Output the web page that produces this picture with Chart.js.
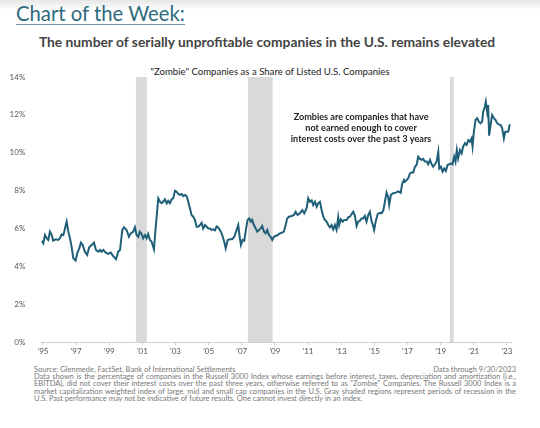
<!DOCTYPE html>
<html>
<head>
<meta charset="utf-8">
<script src="https://cdn.jsdelivr.net/npm/chart.js@4"></script>
<style>
  body { margin: 0; width: 540px; height: 428px; background: #fff; font-family: Lato, "Open Sans", sans-serif; position: relative; overflow: hidden; }
  .shade { position: absolute; left: 0; top: 0; width: 540px; height: 10px; background: linear-gradient(#e6e6e6, #fff); }
  .big { position: absolute; left: 16px; top: 2px; font-size: 20.3px; color: #2e6b7d; border-bottom: 1.5px solid #6f98a5; line-height: 22px; padding-bottom: 0px; }
  .head { position: absolute; left: 0; width: 540px; text-align: center; white-space: nowrap; }
  .foot { position: absolute; left: 34px; width: 482px; font-size: 7.5px; line-height: 7.3px; color: #777; text-align: justify; }
  #wrap { position: absolute; left: 0; top: 60px; width: 540px; height: 305px; }
</style>
</head>
<body>
<div class="shade"></div>
<div class="big">Chart of the Week:</div>
<div class="head" style="top:33px;font-size:13.8px;font-weight:bold;color:#444;margin-left:-3px;">The number of serially unprofitable companies in the U.S. remains elevated</div>
<div class="head" style="top:66px;font-size:9.6px;color:#222;">"Zombie" Companies as a Share of Listed U.S. Companies</div>
<div id="wrap"><canvas id="grafico" width="540" height="305"></canvas></div>
<div class="foot" style="top:365.5px;">Source: Glenmede, FactSet, Bank of International Settlements<span style="float:right">Data through 9/30/2023</span></div>
<div class="foot" style="top:373px;">Data shown is the percentage of companies in the Russell 3000 Index whose earnings before interest, taxes, depreciation and amortization (i.e., EBITDA), did not cover their interest costs over the past three years, otherwise referred to as "Zombie" Companies. The Russell 3000 Index is a market capitalization weighted index of large, mid and small cap companies in the U.S. Gray shaded regions represent periods of recession in the U.S. Past performance may not be indicative of future results. One cannot invest directly in an index.</div>
<script>
// Dados (ano decimal, % de empresas "zumbi")
const anos = [
  1994.92,1995.02,1995.12,1995.22,1995.32,1995.42,1995.53,1995.62,1995.78,1995.92,
  1996.03,1996.13,1996.23,1996.33,1996.43,1996.53,1996.63,1996.73,1996.83,1996.97,
  1997.07,1997.19,1997.29,1997.40,1997.53,1997.67,1997.79,1997.94,1998.08,1998.20,
  1998.34,1998.44,1998.54,1998.64,1998.80,1998.94,1999.09,1999.24,1999.41,1999.54,
  1999.65,1999.79,1999.89,2000.05,2000.19,2000.31,2000.45,2000.55,2000.65,2000.75,
  2000.85,2000.96,2001.05,2001.16,2001.26,2001.35,2001.46,2001.56,2001.70,2001.80,
  2001.88,2001.96,2002.06,2002.16,2002.26,2002.36,2002.47,2002.56,2002.66,2002.77,
  2002.86,2002.97,2003.07,2003.17,2003.27,2003.37,2003.47,2003.57,2003.67,2003.77,
  2003.87,2003.97,2004.07,2004.17,2004.28,2004.37,2004.48,2004.58,2004.67,2004.78,
  2004.88,2004.98,2005.08,2005.18,2005.28,2005.38,2005.48,2005.58,2005.74,2005.82,
  2005.94,2006.03,2006.15,2006.29,2006.42,2006.55,2006.69,2006.79,2006.87,2006.95,
  2007.05,2007.15,2007.25,2007.35,2007.45,2007.55,2007.63,2007.73,2007.84,2007.93,
  2008.04,2008.14,2008.23,2008.34,2008.44,2008.54,2008.64,2008.74,2008.84,2008.94,
  2009.04,2009.16,2009.30,2009.41,2009.54,2009.65,2009.74,2009.85,2010.01,2010.15,
  2010.25,2010.37,2010.51,2010.65,2010.77,2010.91,2011.01,2011.11,2011.22,2011.31,
  2011.42,2011.52,2011.61,2011.72,2011.82,2011.92,2012.02,2012.12,2012.22,2012.32,
  2012.42,2012.52,2012.62,2012.72,2012.82,2012.88,2012.98,2013.09,2013.18,2013.33,
  2013.42,2013.53,2013.63,2013.73,2013.83,2013.93,2014.03,2014.13,2014.23,2014.33,
  2014.43,2014.53,2014.63,2014.73,2014.84,2014.93,2014.99,2015.08,2015.20,2015.34,
  2015.44,2015.54,2015.64,2015.74,2015.84,2015.90,2016.00,2016.14,2016.29,2016.44,
  2016.59,2016.68,2016.79,2016.85,2016.95,2017.05,2017.15,2017.25,2017.35,2017.45,
  2017.55,2017.65,2017.75,2017.85,2017.95,2018.05,2018.16,2018.25,2018.36,2018.46,
  2018.55,2018.66,2018.76,2018.86,2018.92,2019.02,2019.12,2019.22,2019.32,2019.42,
  2019.52,2019.62,2019.72,2019.82,2019.90,2019.98,2020.06,2020.17,2020.27,2020.36,
  2020.47,2020.57,2020.67,2020.77,2020.87,2020.93,2021.01,2021.11,2021.21,2021.31,
  2021.41,2021.51,2021.57,2021.67,2021.73,2021.81,2021.87,2021.93,2022.02,2022.11,
  2022.22,2022.32,2022.42,2022.52,2022.62,2022.72,2022.82,2022.90,2023.00,2023.08,
  2023.18
];
const zumbis = [
  5.35,5.21,5.65,5.48,5.39,5.83,5.65,5.35,5.43,5.39,
  5.48,5.69,5.65,6.00,6.36,5.83,5.48,5.04,4.42,4.30,
  4.69,4.95,5.25,5.12,4.77,4.60,5.00,5.12,5.25,4.86,
  4.77,4.86,4.77,4.86,4.72,4.65,4.72,4.54,4.37,4.77,
  4.86,5.92,6.06,5.92,5.56,5.74,5.83,6.06,5.65,5.56,
  5.83,5.69,5.48,5.65,5.48,5.71,5.39,5.30,4.90,6.00,
  6.80,7.59,7.41,7.33,7.41,7.54,7.33,7.46,7.33,7.54,
  7.59,7.99,7.94,7.82,7.77,7.82,7.71,7.77,7.71,7.41,
  7.06,6.71,6.62,6.45,6.09,6.09,6.18,6.30,6.00,6.18,
  6.09,6.00,6.00,5.92,5.95,5.90,6.10,6.05,5.83,5.65,
  5.30,4.95,5.39,5.43,5.43,5.56,5.92,6.18,5.56,5.12,
  5.39,5.35,5.92,6.45,6.53,6.36,6.45,6.18,6.00,5.83,
  5.92,6.00,6.13,5.83,5.74,5.92,5.65,5.56,5.39,5.56,
  5.60,5.65,5.74,5.77,5.83,6.18,6.53,6.62,6.66,6.71,
  6.88,6.71,6.80,6.97,6.80,7.06,7.59,7.41,7.48,7.24,
  7.41,7.15,7.33,7.41,6.97,6.62,6.45,6.36,6.18,6.06,
  6.18,5.95,6.18,5.92,6.59,6.18,6.48,6.36,6.45,6.45,
  6.59,6.62,6.76,6.88,6.66,6.13,6.36,6.41,6.53,6.53,
  6.66,6.36,6.71,6.88,6.36,6.13,5.92,6.36,6.76,6.83,
  6.80,6.94,7.41,7.89,7.65,7.24,7.77,7.86,7.89,7.96,
  7.88,8.35,8.56,8.47,8.56,8.65,8.91,8.96,8.96,9.26,
  9.35,9.79,9.67,9.62,9.67,9.53,9.53,9.39,9.62,9.39,
  9.26,9.39,9.53,10.05,9.17,9.26,9.00,9.17,9.03,9.35,
  9.39,9.44,9.39,9.79,9.53,10.14,9.70,10.14,9.97,10.32,
  10.50,10.41,10.67,10.58,10.76,10.32,11.11,11.73,11.82,11.64,
  11.55,11.64,12.17,12.43,12.70,12.17,12.52,10.90,11.46,11.99,
  11.82,11.73,11.55,11.50,11.46,11.29,10.76,11.11,11.11,11.11,
  11.50
];
// Recessões (faixas cinzas) e marcas do eixo x
const recessoes = [[2000.61, 2001.27], [2007.37, 2008.86], [2019.56, 2019.79]];
const anosEixo = [1995,1997,1999,2001,2003,2005,2007,2009,2011,2013,2015,2017,2019,2021,2023];
const nota = ["Zombies are companies that have", "not earned enough to cover", "interest costs over the past 3 years"];

const faixas = {
  id: "faixas",
  beforeDatasetsDraw(chart) {
    const { ctx, chartArea, scales } = chart;
    ctx.save();
    ctx.fillStyle = "#d9d9d9";
    recessoes.forEach(([a, b]) => {
      const x1 = scales.x.getPixelForValue(a);
      const x2 = scales.x.getPixelForValue(b);
      ctx.fillRect(x1, chartArea.top, x2 - x1, chartArea.bottom - chartArea.top);
    });
    ctx.restore();
  },
  afterDatasetsDraw(chart) {
    const { ctx, scales } = chart;
    ctx.save();
    ctx.fillStyle = "#222";
    ctx.font = "bold 9.1px Lato";
    ctx.textAlign = "center";
    ctx.textBaseline = "middle";
    const cx = scales.x.getPixelForValue(2014.2);
    nota.forEach((t, i) => ctx.fillText(t, cx, scales.y.getPixelForValue(11.88) + i * 11.2));
    ctx.restore();
  }
};

const pontos = anos.map((a, i) => ({ x: a, y: zumbis[i] }));

new Chart(document.getElementById("grafico"), {
  type: "line",
  data: {
    datasets: [{
      data: pontos,
      borderColor: "#1f5f78",
      borderWidth: 2,
      pointRadius: 0,
      tension: 0
    }]
  },
  plugins: [faixas],
  options: {
    responsive: false,
    animation: false,
    devicePixelRatio: 1,
    layout: { padding: { top: 17, right: 29, left: 0, bottom: 0 } },
    plugins: { legend: { display: false }, tooltip: { enabled: false } },
    scales: {
      x: {
        type: "linear",
        min: 1994.9,
        max: 2023.25,
        afterBuildTicks: s => { s.ticks = anosEixo.map(v => ({ value: v })); },
        afterFit: s => { s.height = 23; },
        grid: { drawOnChartArea: false, color: "#cfcfcf", tickLength: 3 },
        border: { color: "#cfcfcf" },
        ticks: {
          autoSkip: false,
          maxRotation: 0,
          padding: 2,
          color: "#555",
          font: { family: "Lato", size: 8 },
          callback: v => "'" + String(v).slice(2)
        }
      },
      y: {
        min: 0,
        max: 14,
        afterFit: s => { s.width = 41.3; },
        grid: { display: false },
        border: { display: false },
        ticks: {
          stepSize: 2,
          padding: 8,
          color: "#555",
          font: { family: "Lato", size: 8 },
          callback: v => v + "%"
        }
      }
    }
  }
});
</script>
</body>
</html>
